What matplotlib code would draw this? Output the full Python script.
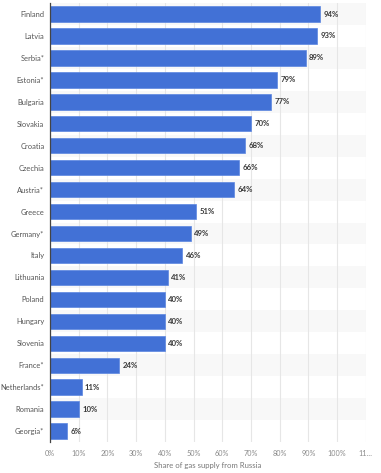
import matplotlib
matplotlib.use("Agg")
import matplotlib.pyplot as plt

plt.rcParams["font.family"] = ["Lato", "DejaVu Sans"]

countries = [
    "Finland", "Latvia", "Serbia*", "Estonia*", "Bulgaria", "Slovakia",
    "Croatia", "Czechia", "Austria*", "Greece", "Germany*", "Italy",
    "Lithuania", "Poland", "Hungary", "Slovenia", "France*", "Netherlands*",
    "Romania", "Georgia*",
]
shares = [94, 93, 89, 79, 77, 70, 68, 66, 64, 51, 49, 46, 41, 40, 40, 40, 24, 11, 10, 6]
xticks = list(range(0, 111, 10))
xticklabels = ["%d%%" % t for t in xticks[:-1]] + ["11\u2026"]

fig = plt.figure(figsize=(3.81, 4.73), dpi=100)
ax = fig.add_axes([0.1312, 0.0655, 0.829, 0.928])

n = len(countries)
pos = list(range(n))

# alternating row bands
for i in pos:
    if i % 2 == 0:
        ax.axhspan(i - 0.5, i + 0.5, color="#f8f8f8", zorder=0, lw=0)

ax.barh(pos, shares, height=0.7, color="#4271d6", edgecolor="#5b86e0",
        linewidth=0.5, zorder=3)

for p, v in zip(pos, shares):
    ax.text(v + 1.2, p, "%d%%" % v, va="center", ha="left",
            fontsize=5.6, fontweight="bold", color="#3a3a3a", zorder=4)

ax.set_ylim(n - 0.5, -0.5)
ax.set_xlim(0, 110)
ax.set_yticks(pos)
ax.set_yticklabels(countries, fontsize=5.4, color="#555555")
ax.set_xticks(xticks)
ax.set_xticklabels(xticklabels, fontsize=5.2, color="#8a8a8a")
ax.tick_params(axis="both", length=0)
ax.tick_params(axis="y", pad=4)
ax.tick_params(axis="x", pad=6)

ax.grid(axis="x", color="#e6e6e6", linewidth=0.8, zorder=1)
ax.set_axisbelow(True)
for s in ["top", "right", "bottom"]:
    ax.spines[s].set_visible(False)
ax.spines["left"].set_color("#444444")
ax.spines["left"].set_linewidth(0.9)
ax.spines["left"].set_zorder(5)

ax.set_xlabel("Share of gas supply from Russia", fontsize=5.6, color="#777777",
              labelpad=3)

fig.savefig("out.png", dpi=100)
